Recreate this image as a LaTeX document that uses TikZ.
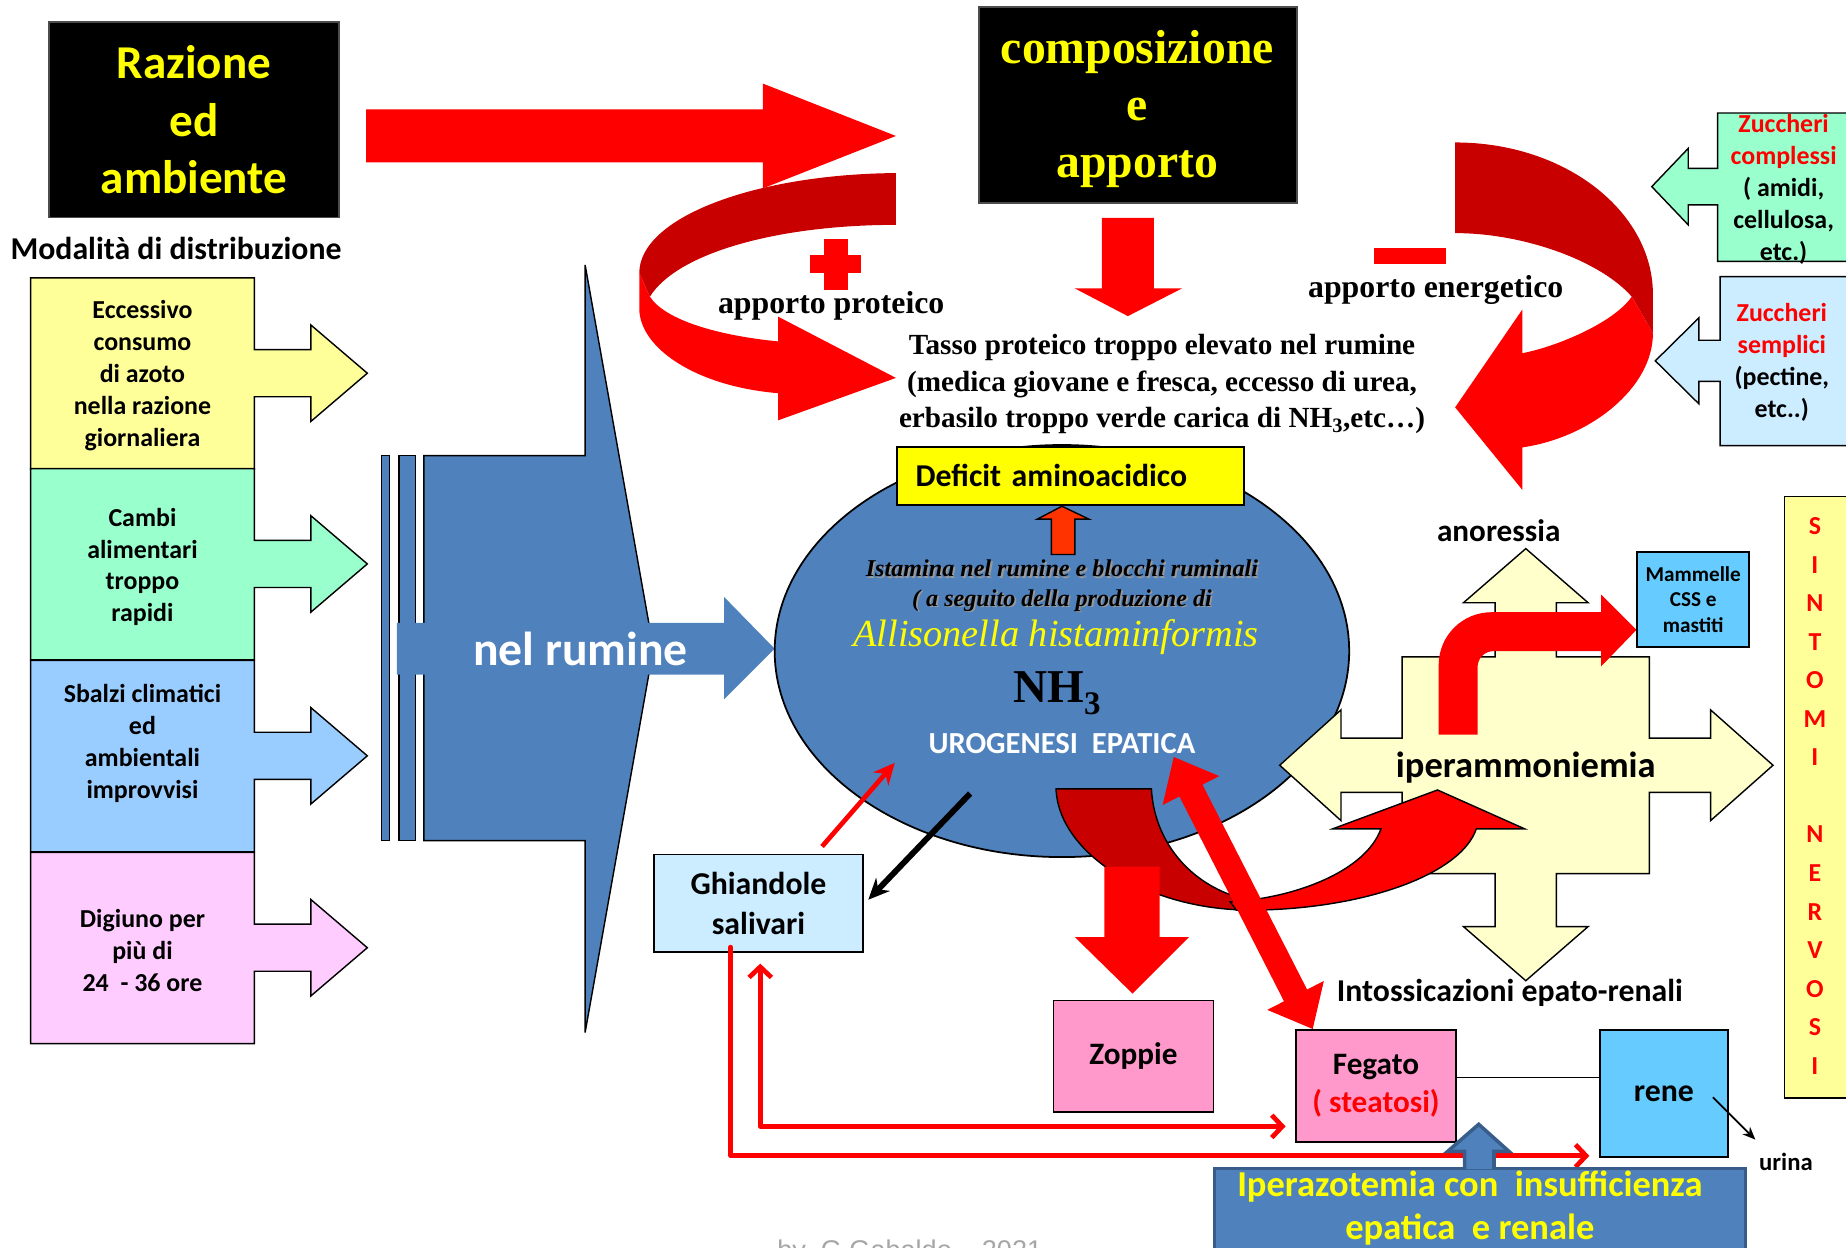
\documentclass[tikz,border=0pt]{standalone}
\usepackage{fontspec}
\setmainfont{Carlito}
\newfontfamily\serifT{Liberation Serif}
\newfontfamily\arialT{Liberation Sans}
\usetikzlibrary{arrows.meta,calc,positioning,shapes.geometric}
\definecolor{rosso}{RGB}{255,0,0}
\definecolor{rossoscuro}{RGB}{200,0,0}
\definecolor{giallo}{RGB}{255,255,0}
\definecolor{blu}{RGB}{79,129,189}
\definecolor{bluscuro}{RGB}{56,93,138}
\definecolor{gialloch}{RGB}{255,255,153}
\definecolor{verdech}{RGB}{153,255,204}
\definecolor{azzurro}{RGB}{153,204,255}
\definecolor{lilla}{RGB}{255,204,255}
\definecolor{azzurroch}{RGB}{204,236,255}
\definecolor{celeste}{RGB}{102,204,255}
\definecolor{rosa}{RGB}{255,153,204}
\definecolor{crema}{RGB}{255,255,204}
\definecolor{arancio}{RGB}{255,51,0}
\definecolor{grigio}{RGB}{166,166,166}
\newcommand{\corpo}[2]{\fontsize{#1pt}{#2pt}\selectfont}
\tikzset{
  testo/.style={align=center, inner sep=0pt},
  scatola/.style={draw=black, line width=1.5pt, inner sep=0pt, anchor=north west, align=center},
  contorno/.style={draw=black, line width=1.2pt},
  lineasal/.style={rosso, line width=4pt, line cap=round, line join=round},
  barba/.tip={Straight Barb[length=9pt, width=19pt]}
}

\begin{document}
\begin{tikzpicture}[x=1pt,y=-1pt]
    \useasboundingbox (0,0) rectangle (1568,1060);
    \clip (0,0) rectangle (1568,1060);

    % colonna di sinistra
    \node[testo, font=\bfseries\corpo{27}{27}] (modalita) at (149.5,211) {Modalità di distribuzione};
    \foreach \yt/\colore in {236/gialloch,398/verdech,561/azzurro,724/lilla}{
        \filldraw[fill=\colore, contorno] (26,\yt) -- (216,\yt) -- (216,{\yt+61}) -- (264,{\yt+61}) -- (264,{\yt+40}) -- (312,{\yt+81}) -- (264,{\yt+122}) -- (264,{\yt+101}) -- (216,{\yt+101}) -- (216,{\yt+162.5}) -- (26,{\yt+162.5}) -- cycle;
    }
    \node[testo, font=\bfseries\corpo{22}{27}] (eccesso) at (121,319) {Eccessivo\\consumo\\di azoto\\nella razione\\giornaliera};
    \node[testo, font=\bfseries\corpo{22}{27}] (cambi) at (121,481.5) {Cambi\\alimentari\\troppo\\rapidi};
    \node[testo, font=\bfseries\corpo{22}{27}] (sbalzi) at (121,631.5) {Sbalzi climatici\\ed\\ambientali\\improvvisi};
    \node[testo, font=\bfseries\corpo{22}{27}] (digiuno) at (121,807.5) {Digiuno per\\più di\\24\ \ - 36 ore};

    % riquadri neri
    \node[scatola, fill=black, draw=black!70, minimum width=246pt, minimum height=166pt, text=giallo, font=\bfseries\corpo{40}{49}] (razione) at (41,18) {Razione\\ed\\ambiente};
    \node[scatola, fill=black, draw=black!70, minimum width=270pt, minimum height=167pt] (composizione) at (831,5) {};
    \node[testo, text=giallo, font=\serifT\bfseries\corpo{40.5}{48.5}] (apporto) at (966,92.5) {composizione\\e\\apporto};
    \fill[rosso] (311,93) -- (648,93) -- (648,71) -- (761,115.5) -- (648,160) -- (648,138) -- (311,138) -- cycle;
    \fill[rosso] (936,185) -- (980,185) -- (980,245) -- (1004,245) -- (958,268.5) -- (913,245) -- (936,245) -- cycle;

    % imbuto
    \filldraw[fill=blu, draw=black, line width=1.2pt] (324,387) rectangle (331,714);
    \filldraw[fill=blu, draw=black, line width=1.2pt] (339,387) rectangle (353,714);
    \filldraw[fill=blu, draw=black, line width=1.2pt] (360,387) -- (497,387) -- (497,225) -- (555,551) -- (497,877) -- (497,714) -- (360,714) -- cycle;
    \fill[blu] (337,529) -- (615,529) -- (615,507) -- (658,551) -- (615,594) -- (615,573) -- (337,573) -- cycle;
    \node[testo, text=white, font=\bfseries\corpo{40.5}{40.5}] (nelrumine) at (493,551) {nel rumine};

    % nastri curvi
    \fill[rossoscuro] (761,147) .. controls (640,148) and (543,185) .. (543,232) -- (552,252) .. controls (575,215) and (660,191) .. (761,191) -- cycle;
    \fill[rosso] (543,232) -- (543,262) .. controls (543,295) and (590,328) .. (661,334) -- (661,357) -- (761,321) -- (661,269) -- (661,290) .. controls (610,285) and (565,272) .. (552,252) -- cycle;
    \fill[rossoscuro] (1236,121) .. controls (1330,121) and (1404,180) .. (1404,250) -- (1404,283) -- (1386,252) .. controls (1360,222) and (1295,198) .. (1236,198) -- cycle;
    \fill[rosso] (1404,283) .. controls (1404,330) and (1350,372) .. (1293,380) -- (1293,416) -- (1236,346) -- (1293,263) -- (1293,300) .. controls (1320,295) and (1370,275) .. (1386,252) -- cycle;
    \fill[rosso] (700,203) rectangle (720,246);
    \fill[rosso] (688,217) rectangle (731,232);
    \fill[rosso] (1167,211) rectangle (1228,224.5);
    \node[testo, font=\serifT\bfseries\corpo{27}{27}] (proteico) at (706,259.5) {apporto proteico};
    \node[testo, font=\serifT\bfseries\corpo{27}{27}] (energetico) at (1219.5,246.5) {apporto energetico};
    \node[testo, font=\serifT\bfseries\corpo{24.8}{31}] (tasso) at (987,326.5) {Tasso proteico troppo elevato nel rumine\\(medica giovane e fresca, eccesso di urea,\\erbasilo troppo verde carica di NH\textsubscript{3},etc…)};

    % zuccheri
    \filldraw[fill=verdech, contorno] (1580,96) -- (1459,96) -- (1459,143) -- (1434,143) -- (1434,126) -- (1403,158.5) -- (1434,191) -- (1434,174) -- (1459,174) -- (1459,222) -- (1580,222) -- cycle;
    \filldraw[fill=azzurroch, contorno] (1580,235) -- (1461,235) -- (1461,289) -- (1443,289) -- (1443,270) -- (1406,306.5) -- (1443,343) -- (1443,324) -- (1461,324) -- (1461,378.5) -- (1580,378.5) -- cycle;
    \node[testo, font=\bfseries\corpo{22}{27.2}] (complessi) at (1515,160.5) {\textcolor{rosso}{Zuccheri}\\\textcolor{rosso}{complessi}\\( amidi,\\cellulosa,\\etc.)};
    \node[testo, font=\bfseries\corpo{22}{27.2}] (semplici) at (1513.5,308) {\textcolor{rosso}{Zuccheri}\\\textcolor{rosso}{semplici}\\(pectine,\\etc..)};

    % rumine
    \node[ellipse, draw=black, line width=1.5pt, fill=blu, minimum width=488pt, minimum height=350pt, inner sep=0pt] (ellisse) at (902,553) {};
    \node[scatola, fill=giallo, minimum width=295pt, minimum height=49pt, text width=263pt, inner xsep=16pt, align=left, font=\bfseries\corpo{27}{27}] (deficit) at (761,379) {Deficit aminoacidico};
    \filldraw[fill=arancio, draw=black, line width=1.2pt] (893,471) -- (893,441) -- (881,441) -- (902,430) -- (925,441) -- (913,441) -- (913,471) -- cycle;
    \node[testo, text=black!40, font=\serifT\bfseries\itshape\corpo{20.5}{25}] (ombra) at (903.5,499) {Istamina nel rumine e blocchi ruminali\\( a seguito della produzione di};
    \node[testo, font=\serifT\bfseries\itshape\corpo{20.5}{25}] (istamina) at (902,497.5) {Istamina nel rumine e blocchi ruminali\\( a seguito della produzione di};
    \node[testo, text=giallo, font=\serifT\itshape\corpo{32.5}{32.5}] (allisonella) at (897,541) {Allisonella histaminformis};
    \node[testo, anchor=base, font=\serifT\bfseries\corpo{40}{40}] (nh) at (898,597) {NH\textsubscript{3}};
    \node[testo, text=white, font=\bfseries\corpo{26}{26}] (urogenesi) at (902,632) {UROGENESI\ \ EPATICA};

    % iperammoniemia
    \filldraw[fill=crema, contorno] (1087,650) -- (1139,603) -- (1139,627) -- (1191,627) -- (1191,558) -- (1270,558) -- (1270,512) -- (1243,512) -- (1296,466) -- (1349,512) -- (1322,512) -- (1322,558) -- (1401,558) -- (1401,627) -- (1453,627) -- (1453,603) -- (1506,650) -- (1453,697) -- (1453,673) -- (1401,673) -- (1401,742) -- (1322,742) -- (1322,787) -- (1349,787) -- (1296,833) -- (1243,787) -- (1270,787) -- (1270,742) -- (1191,742) -- (1191,673) -- (1139,673) -- (1139,697) -- cycle;
    \node[testo, font=\bfseries\corpo{31}{31}] (iper) at (1296,652) {iperammoniemia};
    \node[testo, font=\bfseries\corpo{26.5}{26.5}] (anoressia) at (1273,451) {anoressia};
    \node[testo, font=\bfseries\corpo{27}{27}] (intossicazioni) at (1282.5,843) {Intossicazioni epato-renali};
    \fill[rosso] (1222,624) -- (1222,565) .. controls (1222,540) and (1242,520) .. (1267,520) -- (1360,520) -- (1360,505) -- (1390,535) -- (1360,566) -- (1360,553) -- (1269,553) .. controls (1261,553) and (1255,559) .. (1255,567) -- (1255,624) -- cycle;
    \node[scatola, fill=celeste, minimum width=95pt, minimum height=81pt, font=\bfseries\corpo{18}{21.5}] (mammelle) at (1390,468) {Mammelle\\CSS e\\mastiti};
    \node[scatola, fill=gialloch, minimum width=70pt, minimum height=511pt] (sintomi) at (1515,421) {};
    \node[testo, text=rosso, font=\bfseries\corpo{22}{32.75}] (sintomitesto) at (1541.6,676) {S\\I\\N\\T\\O\\M\\I\\~\\N\\E\\R\\V\\O\\S\\I};

    % freccia curva sotto il rumine
    \filldraw[fill=rossoscuro, contorno] (897,670) -- (978,670) .. controls (980,710) and (1005,745) .. (1045,760) -- (1062,773) .. controls (975,773) and (899,725) .. (897,670) -- cycle;
    \filldraw[fill=rosso, contorno] (1045,766) .. controls (1100,763) and (1160,740) .. (1173,704) -- (1132,704) -- (1221,671) -- (1295,704) -- (1254,704) .. controls (1240,745) and (1150,775) .. (1050,773) -- cycle;
    \fill[rosso] (938,736) -- (985,736) -- (985,796) -- (1010,796) -- (962,844) -- (913,796) -- (938,796) -- cycle;

    % organi
    \node[scatola, fill=azzurroch, minimum width=177pt, minimum height=83pt, font=\bfseries\corpo{27}{34}] (ghiandole) at (555,725) {Ghiandole\\salivari};
    \node[scatola, fill=rosa, minimum width=136pt, minimum height=95pt, font=\bfseries\corpo{26.5}{26.5}] (zoppie) at (894,849) {Zoppie};
    \node[scatola, fill=rosa, minimum width=136pt, minimum height=95pt, font=\bfseries\corpo{26.5}{33}] (fegato) at (1100,874) {Fegato\\\textcolor{rosso}{( steatosi)}};
    \node[scatola, fill=celeste, minimum width=109pt, minimum height=108pt, font=\bfseries\corpo{27}{27}] (rene) at (1358,874) {rene};
    \node[testo, font=\bfseries\corpo{21}{21}] (urina) at (1517,987) {urina};
    \draw[line width=1.2pt] ([yshift=7pt]fegato.east) -- ([yshift=7pt]fegato.east -| rene.west);
    \coordinate (reneint) at (1455,932);
    \coordinate (urinapunta) at (1491,968);
    \draw[line width=1.5pt, -{Stealth[length=11pt,width=9pt]}] (reneint) -- (urinapunta);

    % frecce doppie e connettori
    \coordinate (dpA) at (997,643);
    \coordinate (dpB) at ([xshift=15pt]fegato.north west);
    \coordinate (hA) at ($(dpA)!32pt!(dpB)$);
    \coordinate (hB) at ($(dpB)!32pt!(dpA)$);
    \fill[rosso] (dpA) -- ($(hA)!27pt!90:(dpB)$) -- ($(hA)!11pt!90:(dpB)$) -- ($(hB)!11pt!-90:(dpA)$) -- ($(hB)!27pt!-90:(dpA)$) -- (dpB) -- ($(hB)!27pt!90:(dpA)$) -- ($(hB)!11pt!90:(dpA)$) -- ($(hA)!11pt!-90:(dpB)$) -- ($(hA)!27pt!-90:(dpB)$) -- cycle;
    \coordinate (nerosrc) at (824,674);
    \coordinate (rossotip) at (760,648);
    \draw[line width=5pt, -{Stealth[length=18pt,width=16pt]}] (nerosrc) -- ([xshift=4pt,yshift=3pt]ghiandole.east);
    \draw[rosso, line width=4pt, -{Stealth[length=18pt,width=17pt]}] ([xshift=54pt,yshift=6pt]ghiandole.north) -- (rossotip);
    \draw[lineasal, -barba] ([xshift=-23.5pt,yshift=5pt]ghiandole.south) |- ([xshift=-8pt,yshift=-53pt]rene.west);
    \draw[lineasal, barba-barba] ([xshift=1.5pt,yshift=-9pt]ghiandole.south) |- ([xshift=-8pt,yshift=-34.5pt]fegato.west);

    % iperazotemia
    \node[scatola, fill=blu, draw=bluscuro, line width=3pt, minimum width=451pt, minimum height=90pt] (iperbox) at (1030,991) {};
    \filldraw[fill=blu, draw=bluscuro, line width=3pt] (1244,993) -- (1244,978) -- (1229.6,978) -- (1256,955) -- (1281.7,978) -- (1269,978) -- (1269,993);
    \node[testo, text=giallo, font=\bfseries\corpo{31}{37}] (iperazotemia) at (1248.5,1026) {Iperazotemia con\ \ insufficienza\\epatica\ \ e renale};

    \node[anchor=base west, inner sep=0pt, text=grigio, font=\arialT\corpo{23}{23}] (firma) at (660,1069.5) {by\ \ G.Gabaldo – 2021};

\end{tikzpicture}
\end{document}
